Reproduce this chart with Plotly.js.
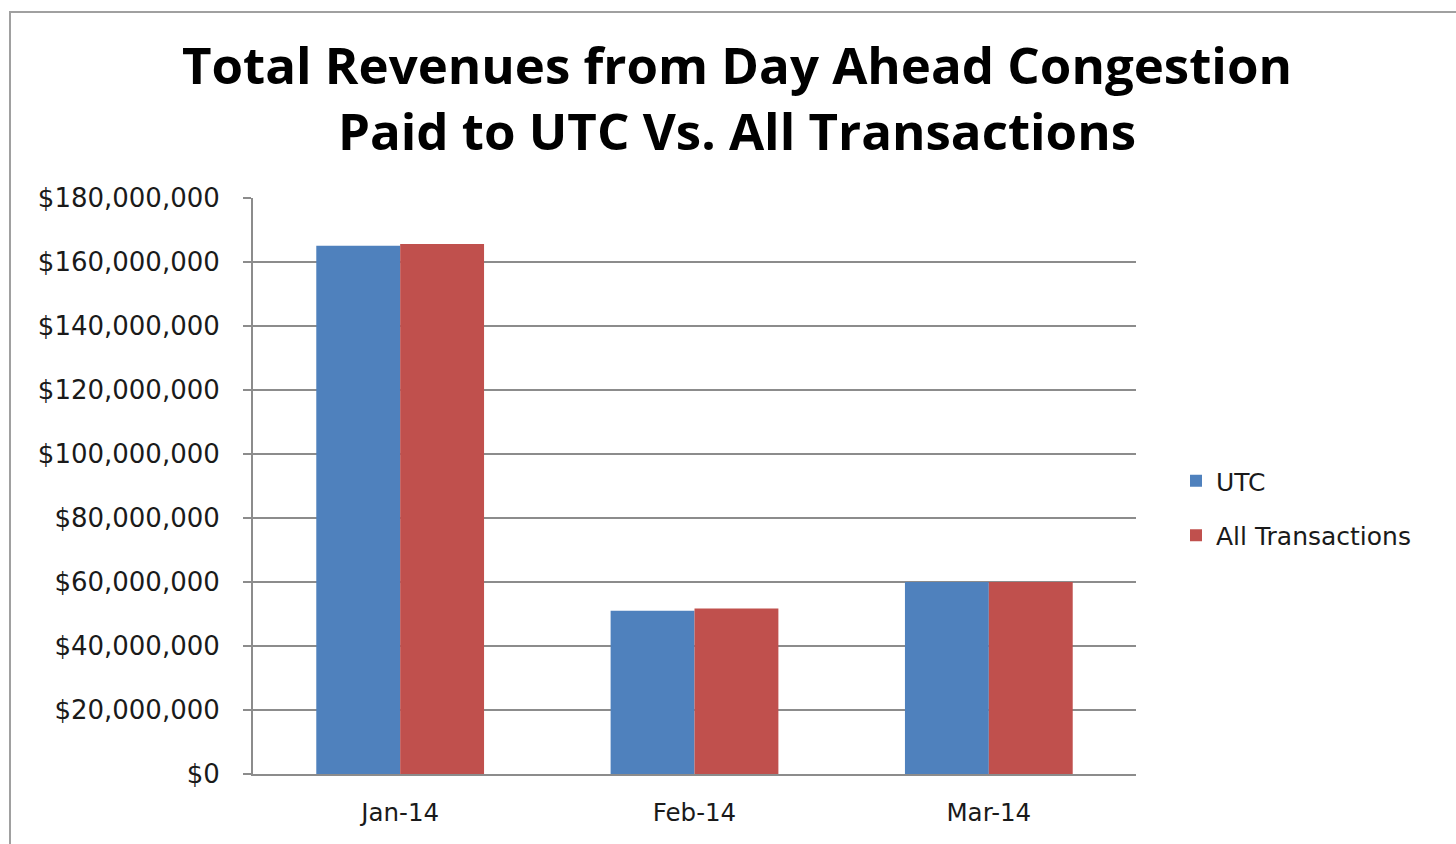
<!DOCTYPE html>
<html>
<head>
<meta charset="utf-8">
<script src="https://cdn.plot.ly/plotly-3.0.1.min.js"></script>
<style>
html,body{margin:0;padding:0;background:#fff;}
#chart{position:absolute;left:0;top:0;width:1456px;height:844px;}
#frame{position:absolute;left:9px;top:11px;width:1460px;height:850px;border-left:2px solid #a0a0a0;border-top:2px solid #a0a0a0;pointer-events:none;}
</style>
</head>
<body>
<div id="chart"></div>
<div id="frame"></div>
<script>
const categories = ["Jan-14", "Feb-14", "Mar-14"];
const utcValues = [165100000, 51000000, 60000000];
const allTransValues = [165600000, 51700000, 60000000];
const yTickValues = [0, 20000000, 40000000, 60000000, 80000000, 100000000, 120000000, 140000000, 160000000, 180000000];

const tickFont = {family: "DejaVu Sans, Verdana, sans-serif", size: 26, color: "#1a1a1a"};
const xTickFont = {family: "DejaVu Sans, Verdana, sans-serif", size: 24.5, color: "#1a1a1a"};

const traces = [
  {type: "bar", name: "UTC", x: categories, y: utcValues, marker: {color: "#4f81bd"}, legendgroup: "a"},
  {type: "bar", name: "All Transactions", x: categories, y: allTransValues, marker: {color: "#c0504d"}, legendgroup: "b"}
];

const layout = {
  width: 1456, height: 844,
  paper_bgcolor: "rgba(0,0,0,0)", plot_bgcolor: "#ffffff",
  margin: {l: 253, r: 320, t: 198, b: 70},
  barmode: "group", bargap: 0.43, bargroupgap: 0,
  title: {
    text: "Total Revenues from Day Ahead Congestion<br>Paid to UTC Vs. All Transactions",
    font: {family: "Open Sans, sans-serif", size: 51, color: "#000", weight: "bold"},
    x: 737/1456, xanchor: "center", xref: "container",
    y: 1 - 84/844, yanchor: "middle", yref: "container"
  },
  xaxis: {
    type: "category", showline: true, linecolor: "#8c8c8c", linewidth: 2,
    ticks: "", tickfont: xTickFont, ticklabelstandoff: 16, showgrid: false
  },
  yaxis: {
    range: [0, 180000000], tickvals: yTickValues, tickformat: "$,.0f",
    showline: true, linecolor: "#8c8c8c", linewidth: 2,
    ticks: "outside", ticklen: 8, tickcolor: "#8c8c8c", tickwidth: 2,
    showgrid: true, gridcolor: "#8c8c8c", gridwidth: 2,
    tickfont: tickFont, ticklabelstandoff: 18, zeroline: false
  },
  legend: {
    xref: "paper", xanchor: "left",
    y: 1 - (508 - 198) / (844 - 198 - 70), yanchor: "middle",
    font: {family: "DejaVu Sans, Verdana, sans-serif", size: 25, color: "#1a1a1a"},
    traceorder: "grouped", tracegroupgap: 19, itemwidth: 30
  },
  showlegend: true
};

layout.legend.x = (1176 - 253) / (1456 - 253 - 320);

Plotly.newPlot("chart", traces, layout, {displayModeBar: false, staticPlot: true});
</script>
</body>
</html>
